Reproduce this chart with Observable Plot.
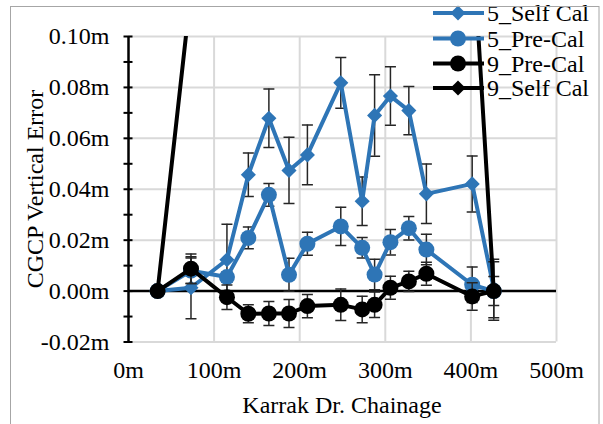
<!DOCTYPE html>
<html>
<head>
<meta charset="utf-8">
<script src="https://cdn.jsdelivr.net/npm/d3@7"></script>
<script src="https://cdn.jsdelivr.net/npm/@observablehq/plot@0.6"></script>
<style>
  html, body { margin: 0; padding: 0; background: #fff; }
  #chart svg { display: block; }
</style>
</head>
<body>
<div id="chart"></div>
<script>
// ---- data ----
const chainage = [34, 73, 115, 140, 164, 187.5, 209, 248, 273, 287.5, 306, 327.5, 348, 401.5, 426.7];

const self5    = [0, 0.0013, 0.0123, 0.0457, 0.0679, 0.0474, 0.0535, 0.0818, 0.0353, 0.0690, 0.0766, 0.0709, 0.0382, 0.0421, 0.0010];
const self5Err = [0, 0.0122, 0.0140, 0.0085, 0.0115, 0.0130, 0.0117, 0.0100, 0.0095, 0.0160, 0.0115, 0.0095, 0.0117, 0.0110, 0.0115];

const pre5     = [0, 0.0080, 0.0055, 0.0209, 0.0378, 0.0064, 0.0186, 0.0254, 0.0170, 0.0065, 0.0192, 0.0247, 0.0163, 0.0025, 0.0000];
const pre5Err  = [0, 0.0050, 0.0020, 0.0043, 0.0045, 0.0065, 0.0045, 0.0075, 0.0040, 0.0060, 0.0050, 0.0046, 0.0060, 0.0070, 0.0057];

const pre9     = [0, 0.0088, -0.0024, -0.0089, -0.0088, -0.0088, -0.0059, -0.0054, -0.0072, -0.0054, 0.0013, 0.0038, 0.0068, -0.0021, 0.0000];
const pre9Err  = [0, 0.0058, 0.0048, 0.0035, 0.0047, 0.0055, 0.0046, 0.0062, 0.0052, 0.0050, 0.0045, 0.0040, 0.0045, 0.0054, 0.0115];

// 9_Self Cal: only its end points are on the chart, the rest runs off the top
const self9Chainage = [34, 73, 401.5, 426.7];
const self9         = [0, 0.118, 0.141, 0];

const seriesNames = ["5_Self Cal", "5_Pre-Cal", "9_Pre-Cal", "9_Self Cal"];
const seriesColors = ["#2E75B6", "#2E75B6", "#000000", "#000000"];
const seriesSymbols = ["diamond2", "circle", "circle", "diamond2"];

const xTicks = [0, 100, 200, 300, 400, 500];
const yTicks = [-0.02, 0, 0.02, 0.04, 0.06, 0.08, 0.10];
const yMinorTicks = [-0.02, -0.01, 0, 0.01, 0.02, 0.03, 0.04, 0.05, 0.06, 0.07, 0.08, 0.09, 0.10];

// ---- tables ----
const table = (xs, ys, es) => xs.map((x, i) => ({x, y: ys[i], e: es ? es[i] : 0}));
const dSelf5 = table(chainage, self5, self5Err);
const dPre5 = table(chainage, pre5, pre5Err);
const dPre9 = table(chainage, pre9, pre9Err);
const dSelf9 = table(self9Chainage, self9, null);

const FONT = "'Liberation Serif', 'Times New Roman', 'DejaVu Serif', serif";
const FS = "24px";
const capSymbol = { draw(ctx) { ctx.moveTo(-5.5, 0); ctx.lineTo(5.5, 0); } };
const errColor = "#262626";

function errorBars(data) {
  return [
    Plot.ruleX(data, {x: "x", y1: d => d.y - d.e, y2: d => d.y + d.e, stroke: errColor, strokeWidth: 1.5, clip: true}),
    Plot.dot(data, {x: "x", y: d => d.y + d.e, symbol: capSymbol, r: 5, fill: "none", stroke: errColor, strokeWidth: 1.5, clip: true}),
    Plot.dot(data, {x: "x", y: d => d.y - d.e, symbol: capSymbol, r: 5, fill: "none", stroke: errColor, strokeWidth: 1.5, clip: true})
  ];
}
function series(data, i, withErr) {
  const r = seriesSymbols[i] === "circle" ? 8 : 6.8;
  return [
    ...(withErr ? errorBars(data) : []),
    Plot.line(data, {x: "x", y: "y", stroke: seriesColors[i], strokeWidth: 4, clip: true}),
    Plot.dot(data, {x: "x", y: "y", symbol: seriesSymbols[i], r, fill: seriesColors[i], stroke: "none", clip: true})
  ];
}

const W = 603, H = 424;
const chart = Plot.plot({
  width: W,
  height: H,
  marginLeft: 128,
  marginRight: 47,
  marginTop: 36,
  marginBottom: 82.5,
  style: {fontFamily: FONT, fontSize: FS, color: "#000", background: "transparent", overflow: "visible"},
  x: {domain: [0, 500], axis: null},
  y: {domain: [-0.02, 0.10], axis: null},
  marks: [
    Plot.gridX({ticks: xTicks.slice(1), stroke: "#d9d9d9", strokeOpacity: 1, strokeWidth: 2}),
    Plot.gridY({ticks: yTicks.filter(d => d !== 0), stroke: "#d9d9d9", strokeOpacity: 1, strokeWidth: 2}),
    Plot.ruleY([0], {stroke: "#000", strokeWidth: 2.5}),
    Plot.ruleX([0], {stroke: "#000", strokeWidth: 2.5}),
    Plot.axisY({ticks: yMinorTicks, tickSize: 9, dx: 4.5, tickFormat: () => "", stroke: "#000", strokeWidth: 2, label: null}),
    Plot.axisY({ticks: yTicks, tickSize: 0, tickPadding: 19, tickFormat: d => d.toFixed(2) + "m", label: null, fontSize: 24}),
    Plot.axisX({ticks: xTicks, tickSize: 0, tickPadding: 19, tickFormat: d => d + "m", label: null, fontSize: 24}),
    ...series(dSelf5, 0, true),
    ...series(dPre5, 1, true),
    ...series(dPre9, 2, true),
    ...series(dSelf9, 3, false)
  ]
});
document.getElementById("chart").appendChild(chart);

// ---- titles, legend, border ----
const svg = d3.select(chart);
svg.append("text")
  .attr("x", 342).attr("y", 413)
  .attr("text-anchor", "middle")
  .style("font-family", FONT).style("font-size", FS).attr("fill", "#000")
  .text("Karrak Dr. Chainage");
svg.append("text")
  .attr("transform", "translate(43,189) rotate(-90)")
  .attr("text-anchor", "middle")
  .style("font-family", FONT).style("font-size", FS).attr("fill", "#000")
  .text("CGCP Vertical Error");

const legendRows = [13, 38.5, 63.5, 88];
const lg = svg.append("g");
seriesNames.forEach((name, i) => {
  const y = legendRows[i];
  lg.append("line").attr("x1", 433).attr("x2", 484).attr("y1", y).attr("y2", y)
    .attr("stroke", seriesColors[i]).attr("stroke-width", 4);
  const sym = seriesSymbols[i] === "circle" ? d3.symbolCircle : d3.symbolDiamond2;
  const size = seriesSymbols[i] === "circle" ? Math.PI * 8 * 8 : Math.PI * 6.8 * 6.8;
  lg.append("path").attr("d", d3.symbol(sym, size)()).attr("transform", `translate(458,${y})`)
    .attr("fill", seriesColors[i]);
  lg.append("text").attr("x", 487).attr("y", y + 8)
    .attr("text-anchor", "start")
    .style("font-family", FONT).style("font-size", FS).attr("fill", "#000")
    .text(name);
});

svg.append("rect")
  .attr("x", 10.5).attr("y", 6.5).attr("width", 588.5).attr("height", 430)
  .attr("fill", "none").attr("stroke", "#a6a6a6").attr("stroke-width", 1);
</script>
</body>
</html>
